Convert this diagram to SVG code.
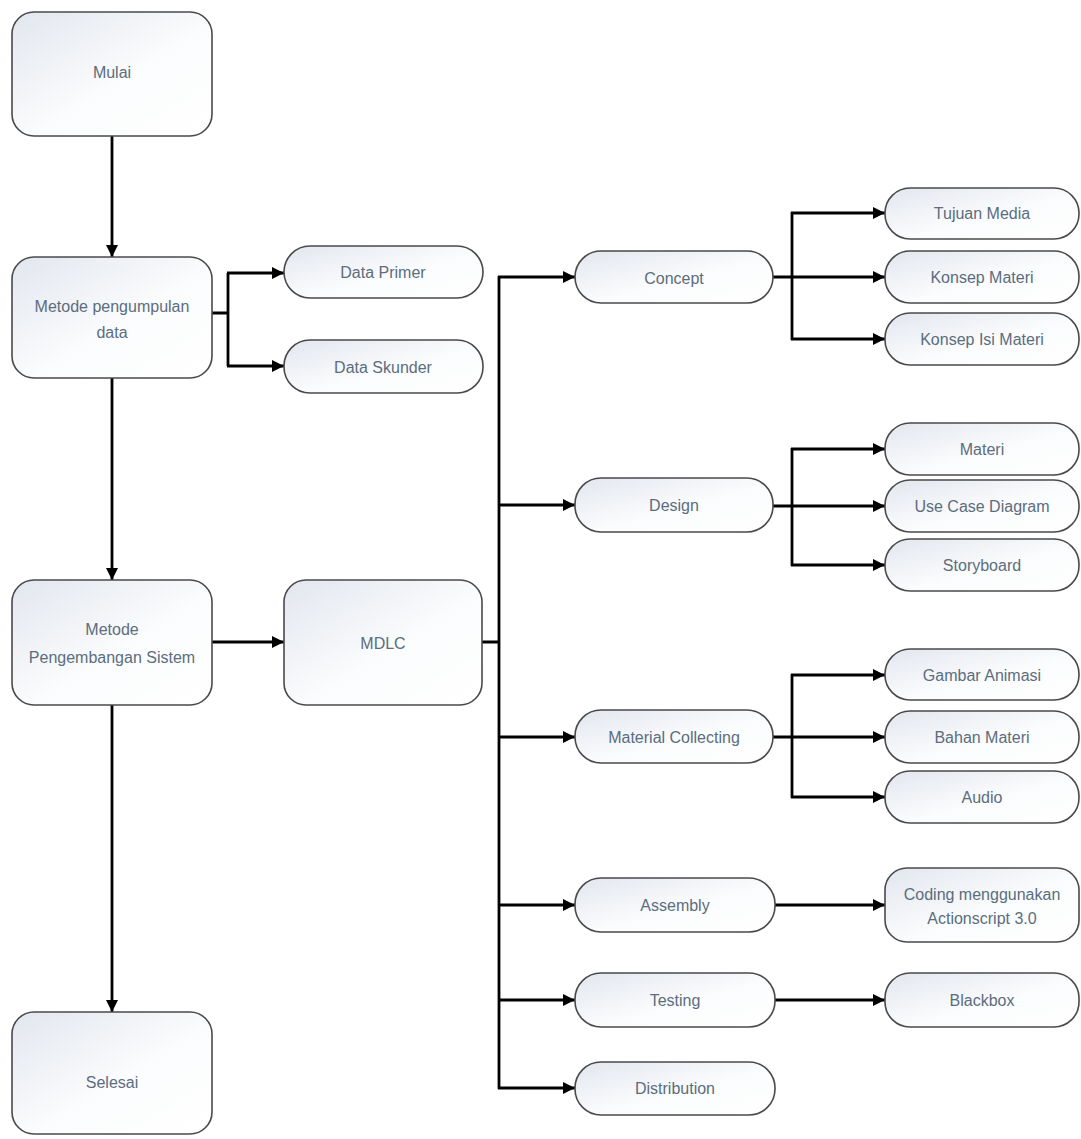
<svg xmlns="http://www.w3.org/2000/svg" width="1081" height="1139" viewBox="0 0 1081 1139">
<style>
.box{fill:url(#g);stroke:#4a4a4a;stroke-width:1.6}
.t{font-family:"Liberation Sans",Arial,sans-serif;font-size:16px;fill:#5b6d7e;text-anchor:middle;dominant-baseline:central}
.c{fill:none;stroke:#000;stroke-width:2.8}
.a{marker-end:url(#ah)}
</style>
<defs>
<linearGradient id="g" x1="0" y1="0" x2="1" y2="1">
<stop offset="0" stop-color="#e2e6ee"/>
<stop offset="0.55" stop-color="#fbfcfd"/>
<stop offset="1" stop-color="#ffffff"/>
</linearGradient>
<marker id="ah" markerUnits="userSpaceOnUse" markerWidth="14" markerHeight="14" refX="12" refY="7" orient="auto">
<path d="M0,1 L12,7 L0,13 z" fill="#000"/>
</marker>
</defs>
<rect width="1081" height="1139" fill="#fff"/>
<g id="connectors">
<path class="c a" d="M112,136 V257"/>
<path class="c a" d="M112,378 V580"/>
<path class="c a" d="M112,705 V1012"/>
<path class="c" d="M212,313 H228 M228,273 V366"/>
<path class="c a" d="M227,273 H284"/>
<path class="c a" d="M227,366 H284"/>
<path class="c a" d="M212,642 H284"/>
<path class="c" d="M482,642 H499 M499,276 V1089"/>
<path class="c a" d="M498,277 H575"/>
<path class="c a" d="M498,505 H575"/>
<path class="c a" d="M498,737 H575"/>
<path class="c a" d="M498,905 H575"/>
<path class="c a" d="M498,1000 H575"/>
<path class="c a" d="M498,1088 H575"/>
<path class="c" d="M792,212 V340"/>
<path class="c a" d="M791,213 H885"/>
<path class="c a" d="M773,277 H885"/>
<path class="c a" d="M791,339 H885"/>
<path class="c" d="M792,448 V566"/>
<path class="c a" d="M791,449 H885"/>
<path class="c a" d="M773,506 H885"/>
<path class="c a" d="M791,565 H885"/>
<path class="c" d="M792,674 V798"/>
<path class="c a" d="M791,675 H885"/>
<path class="c a" d="M773,737 H885"/>
<path class="c a" d="M791,797 H885"/>
<path class="c a" d="M775,905 H885"/>
<path class="c a" d="M775,1000 H885"/>
</g>
<g id="mulai"><rect class="box" x="12" y="12" width="200" height="124" rx="22"/><text class="t" x="112" y="72">Mulai</text></g>
<g id="pengumpulan"><rect class="box" x="12" y="257" width="200" height="121" rx="22"/><text class="t" x="112" y="306">Metode pengumpulan</text><text class="t" x="112" y="332">data</text></g>
<g id="pengembangan"><rect class="box" x="12" y="580" width="200" height="125" rx="22"/><text class="t" x="112" y="629">Metode</text><text class="t" x="112" y="657">Pengembangan Sistem</text></g>
<g id="selesai"><rect class="box" x="12" y="1012" width="200" height="122" rx="22"/><text class="t" x="112" y="1082">Selesai</text></g>
<g id="data-primer"><rect class="box" x="284" y="246" width="199" height="52" rx="26"/><text class="t" x="383" y="272">Data Primer</text></g>
<g id="data-skunder"><rect class="box" x="284" y="340" width="199" height="53" rx="26"/><text class="t" x="383" y="367">Data Skunder</text></g>
<g id="mdlc"><rect class="box" x="284" y="580" width="198" height="125" rx="22"/><text class="t" x="383" y="643">MDLC</text></g>
<g id="concept"><rect class="box" x="575" y="251" width="198" height="52" rx="26"/><text class="t" x="674" y="278">Concept</text></g>
<g id="design"><rect class="box" x="575" y="478" width="198" height="54" rx="26"/><text class="t" x="674" y="505">Design</text></g>
<g id="material"><rect class="box" x="575" y="710" width="198" height="53" rx="26"/><text class="t" x="674" y="737">Material Collecting</text></g>
<g id="assembly"><rect class="box" x="575" y="878" width="200" height="54" rx="26"/><text class="t" x="675" y="905">Assembly</text></g>
<g id="testing"><rect class="box" x="575" y="973" width="200" height="54" rx="26"/><text class="t" x="675" y="1000">Testing</text></g>
<g id="distribution"><rect class="box" x="575" y="1062" width="200" height="53" rx="26"/><text class="t" x="675" y="1088">Distribution</text></g>
<g id="tujuan"><rect class="box" x="885" y="188" width="194" height="51" rx="25"/><text class="t" x="982" y="213">Tujuan Media</text></g>
<g id="konsep-materi"><rect class="box" x="885" y="251" width="194" height="52" rx="25"/><text class="t" x="982" y="277">Konsep Materi</text></g>
<g id="konsep-isi"><rect class="box" x="885" y="313" width="194" height="52" rx="25"/><text class="t" x="982" y="339">Konsep Isi Materi</text></g>
<g id="materi"><rect class="box" x="885" y="423" width="194" height="52" rx="25"/><text class="t" x="982" y="449">Materi</text></g>
<g id="usecase"><rect class="box" x="885" y="480" width="194" height="52" rx="25"/><text class="t" x="982" y="506">Use Case Diagram</text></g>
<g id="storyboard"><rect class="box" x="885" y="539" width="194" height="52" rx="25"/><text class="t" x="982" y="565">Storyboard</text></g>
<g id="gambar"><rect class="box" x="885" y="649" width="194" height="51" rx="25"/><text class="t" x="982" y="675">Gambar Animasi</text></g>
<g id="bahan"><rect class="box" x="885" y="711" width="194" height="52" rx="25"/><text class="t" x="982" y="737">Bahan Materi</text></g>
<g id="audio"><rect class="box" x="885" y="771" width="194" height="52" rx="25"/><text class="t" x="982" y="797">Audio</text></g>
<g id="coding"><rect class="box" x="885" y="868" width="194" height="74" rx="22"/><text class="t" x="982" y="894">Coding menggunakan</text><text class="t" x="982" y="918">Actionscript 3.0</text></g>
<g id="blackbox"><rect class="box" x="885" y="973" width="194" height="54" rx="25"/><text class="t" x="982" y="1000">Blackbox</text></g>
</svg>
